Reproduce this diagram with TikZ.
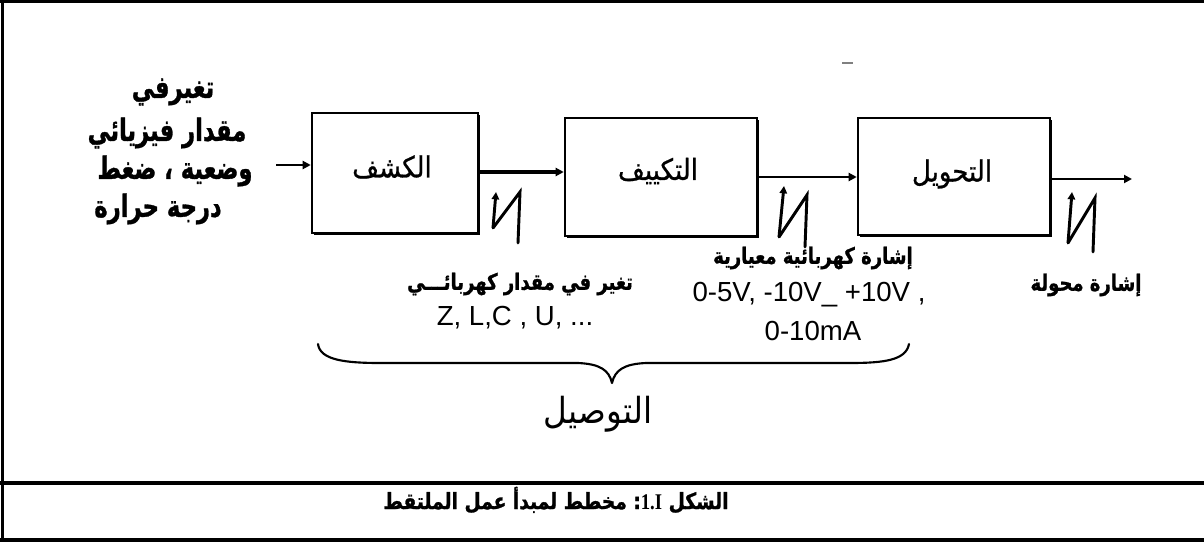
\documentclass[tikz,border=0pt]{standalone}
\usepackage{fontspec}
\usepackage{graphicx}
\TeXXeTstate=1
\newfontfamily\arfont[Script=Arabic]{DejaVu Sans}
\newfontfamily\arbold[Script=Arabic,FakeBold=1.2]{DejaVu Sans Bold}
\newfontfamily\armed[Script=Arabic,FakeBold=0.8]{DejaVu Sans}
\newfontfamily\latfont{Liberation Sans}
\newfontfamily\serbold{Liberation Serif Bold}
\newcommand{\tallar}[2]{\scalebox{1}[#1]{#2}}
\usetikzlibrary{arrows.meta,shadows}
\tikzset{
  frameline/.style={line width=2.6pt},
  blockbox/.style={draw, fill=white, line width=1.9pt, inner sep=0pt,
    drop shadow={shadow xshift=1.3pt, shadow yshift=-1.3pt, opacity=1, fill=black}},
  blocklabel/.style={font=\armed\fontsize{19.5}{23}\selectfont, inner sep=0pt},
  flow/.style={line width=2pt, -{Triangle[length=6pt,width=6pt]}},
  sigline/.style={line width=2.2pt, line cap=round},
  sigtip/.style={line width=2.2pt, -{Triangle[length=5.5pt,width=5.5pt]}},
  intext/.style={font=\arbold\fontsize{17}{20}\selectfont, inner sep=0pt},
  smallar/.style={font=\arbold\fontsize{13.5}{16}\selectfont, inner sep=0pt},
  lattext/.style={font=\latfont\fontsize{20.7}{24}\selectfont, inner sep=0pt},
  bracestyle/.style={line width=1.6pt, line cap=round, line join=round},
  captext/.style={font=\arbold\fontsize{14}{17}\selectfont, inner sep=0pt}
}
\begin{document}
\begin{tikzpicture}[x=0.75pt,y=-0.75pt]
\useasboundingbox (0,0) rectangle (1204,542);
% frame
\draw[frameline] (0,1.5) -- (1204,1.5);
\draw[frameline] (2.5,0) -- (2.5,542);
\draw[line width=3.5pt] (0,483) -- (1204,483);
\draw[line width=3pt] (0,540) -- (1204,540);
% small artefact
\draw[gray, line width=1.2pt] (842,63) -- (853,63);

% blocks
\node[blockbox, minimum width=124.5pt, minimum height=90pt] (b1) at (395,173) {};
\node[blockbox, minimum width=144pt, minimum height=88.5pt] (b2) at (661,177) {};
\node[blockbox, minimum width=144pt, minimum height=88pt] (b3) at (954,176.5) {};
\node[blocklabel] (l1) at (392,167) {\tallar{1.12}{\beginR الكشف\endR}};
\node[blocklabel] (l2) at (658,171) {\tallar{1.12}{\beginR التكييف\endR}};
\node[blocklabel] (l3) at (952,174) {\tallar{1.12}{\beginR التحويل\endR}};

% input text
\node[intext] (in1) at (173,92) {\tallar{1.35}{\beginR تغيرفي\endR}};
\node[intext] (in2) at (167,133) {\tallar{1.35}{\beginR مقدار فيزيائي\endR}};
\node[intext] (in3) at (175,171) {\tallar{1.35}{\beginR وضعية ، ضغط\endR}};
\node[intext] (in4) at (158,209) {\tallar{1.35}{\beginR درجة حرارة\endR}};

% arrows
\coordinate (inS) at (276,165);
\coordinate (outE) at (1132,179);
\draw[flow] (inS) -- (inS -| b1.west);
\draw[flow, line width=2.6pt] (b1.east |- 0,172) -- (b2.west |- 0,172);
\draw[flow] (b2.east |- 0,177) -- (b3.west |- 0,177);
\draw[flow] (b3.east |- outE) -- (outE);

% signal marks
\draw[sigline] (493,228) -- (520,192) -- (518,243);
\draw[sigtip] (493,228) -- (496,192);
\draw[sigline] (779,237) -- (807,195) -- (805,247);
\draw[sigtip] (779,237) -- (784,186);
\draw[sigline] (1068,243) -- (1095,198) -- (1093,252);
\draw[sigtip] (1068,243) -- (1072,192);

% labels under arrows
\node[smallar] (t1) at (520,284) {\tallar{1.25}{\beginR تغير في مقدار كهربائـــي\endR}};
\node[lattext] (t2) at (515,318) {Z, L,C , U, ...};
\node[smallar] (t3) at (813,258) {\tallar{1.25}{\beginR إشارة كهربائية معيارية\endR}};
\node[lattext] (t4) at (809,295) {0-5V, -10V\_ +10V ,};
\node[lattext] (t5) at (813,331) {0-10mA};
\node[smallar] (t6) at (1086,285) {\tallar{1.25}{\beginR إشارة محولة\endR}};

% brace
\draw[bracestyle] (318,344) .. controls (320,360) and (345,363) .. (380,363)
  -- (578,363) .. controls (600,364) and (609,370) .. (612,383)
  .. controls (615,370) and (624,364) .. (646,363)
  -- (850,363) .. controls (885,363) and (906,360) .. (909,344);
\node[font=\arfont\fontsize{24.5}{28}\selectfont, inner sep=0pt] (conn) at (598,414) {\tallar{1.1}{\beginR التوصيل\endR}};

% caption
\node[captext] (cap) at (556,500) {\tallar{1.2}{\beginR الشكل \beginL{\serbold 1.I}\endL: مخطط لمبدأ عمل الملتقط\endR}};
\end{tikzpicture}
\end{document}
